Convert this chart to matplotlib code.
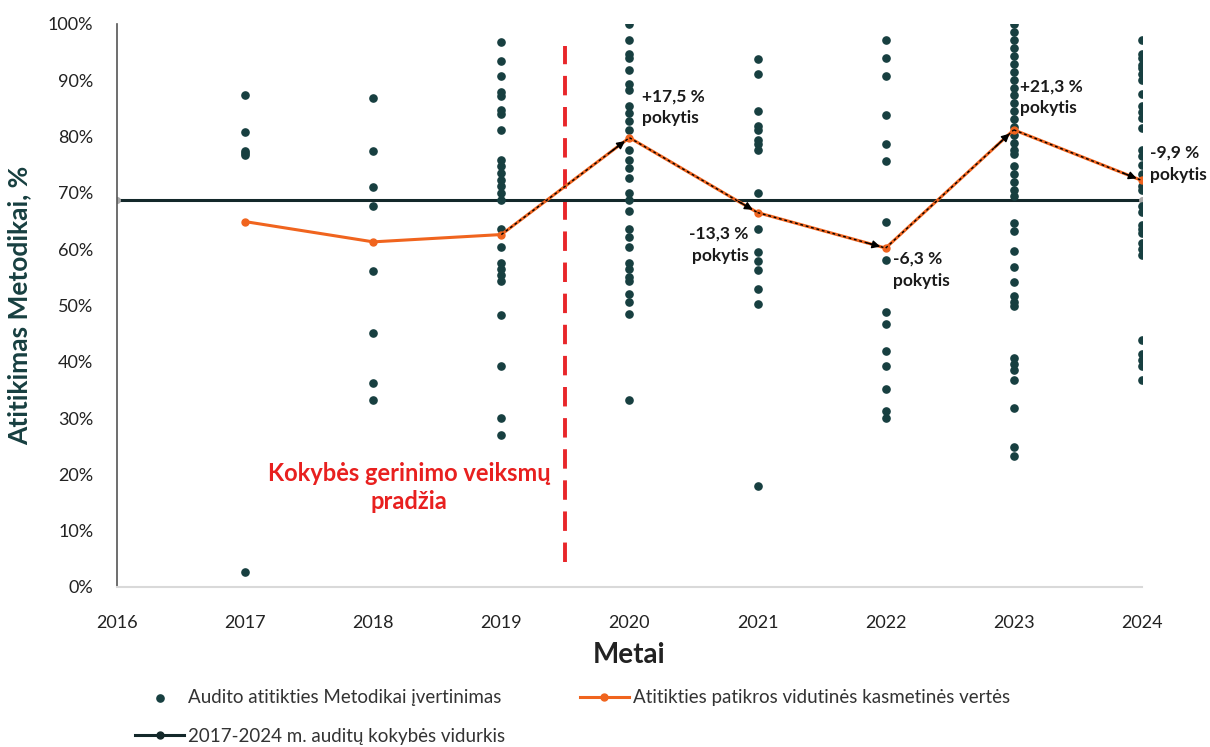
import matplotlib
matplotlib.use("Agg")
import matplotlib.pyplot as plt
from matplotlib.lines import Line2D
from matplotlib.ticker import FuncFormatter

plt.rcParams['font.family'] = ['Lato', 'DejaVu Sans']

# audit scores per year (share of compliance, %)
audit_years = [2017, 2018, 2019, 2020, 2021, 2022, 2023, 2024]
audit_scores = [
    [87.3, 80.8, 77.4, 77.0, 76.8, 2.7],
    [86.8, 77.5, 71.0, 67.7, 56.2, 45.2, 36.2, 33.2],
    [96.8, 93.5, 90.7, 87.9, 87.2, 84.7, 84.0, 81.2, 75.9, 74.8, 73.6, 72.3,
     71.3, 69.9, 68.8, 63.5, 60.3, 57.5, 56.5, 55.4, 54.3, 48.3, 39.2, 30.1, 27.0],
    [100.0, 97.2, 94.6, 93.9, 91.8, 89.4, 88.3, 85.5, 84.1, 82.7, 81.2, 77.7,
     75.9, 74.5, 72.7, 69.9, 68.8, 66.7, 63.6, 62.2, 60.4, 57.6, 56.5, 55.1,
     54.4, 52.0, 50.6, 48.5, 33.3],
    [93.7, 91.1, 84.5, 81.9, 81.2, 79.4, 78.7, 77.7, 69.9, 63.6, 59.5, 57.9,
     56.3, 53.0, 50.2, 18.0],
    [97.2, 94.0, 90.8, 83.9, 78.7, 75.7, 64.8, 58.1, 48.8, 46.7, 41.9, 39.3,
     35.2, 31.2, 30.1],
    [100.0, 98.6, 97.2, 95.7, 94.3, 92.9, 91.5, 90.1, 88.7, 87.3, 85.9, 84.5,
     83.1, 81.7, 80.3, 78.9, 77.7, 76.9, 74.8, 73.4, 72.0, 70.6, 69.4, 64.6,
     63.3, 59.7, 56.9, 54.1, 51.6, 50.6, 49.9, 40.7, 39.6, 38.5, 36.8, 31.8,
     24.8, 23.3],
    [97.2, 94.6, 93.9, 92.8, 92.1, 91.1, 90.0, 87.5, 85.4, 84.4, 83.3, 81.5,
     77.7, 76.6, 74.9, 73.4, 71.3, 70.6, 67.7, 66.6, 64.3, 63.6, 62.9, 61.1,
     60.0, 58.9, 43.9, 41.4, 40.3, 39.3, 36.8],
]

# yearly mean values
mean_years = [2017, 2018, 2019, 2020, 2021, 2022, 2023, 2024]
mean_values = [64.9, 61.3, 62.6, 79.8, 66.5, 60.2, 81.2, 72.2]
change_labels = ['+17,5 %\npokytis', '-13,3 %\npokytis', '-6,3 %\npokytis',
                 '+21,3 %\npokytis', '-9,9 %\npokytis']

# overall average
avg_years = [2016, 2024]
avg_value = 68.8

start_year = 2019.5

teal = '#173f40'
orange = '#f0641e'

fig = plt.figure(figsize=(12.1, 7.47), dpi=100)
ax = fig.add_axes([0.0967, 0.2142, 0.847, 0.7537])

xs, ys = [], []
for yr, vals in zip(audit_years, audit_scores):
    xs += [yr] * len(vals)
    ys += vals
sc = ax.scatter(xs, ys, s=27, color=teal, zorder=3, label='Audito atitikties Metodikai įvertinimas')

ax.plot(avg_years, [avg_value] * len(avg_years), color='#13282a', lw=2.2,
        marker='o', markersize=4, markerfacecolor='#a9a9a9',
        markeredgecolor='#a9a9a9', zorder=2)
avg_handle = Line2D([], [], color='#13282a', lw=2.2, marker='o', markersize=5,
                    label='2017-2024 m. auditų kokybės vidurkis')

mean_line, = ax.plot(mean_years, mean_values, color=orange, lw=2.2, marker='o',
                     markersize=5, zorder=4,
                     label='Atitikties patikros vidutinės kasmetinės vertės')

# dashed black arrows over the segments after 2019
for i in range(2, len(mean_years) - 1):
    x0, y0 = mean_years[i], mean_values[i]
    x1, y1 = mean_years[i + 1], mean_values[i + 1]
    ax.plot([x0, x1], [y0, y1], color='black', lw=1, ls=(0, (2, 2)), zorder=5)
    ax.annotate('', xy=(x1, y1), xytext=(x1 - 0.15 * (x1 - x0), y1 - 0.15 * (y1 - y0)),
                arrowprops=dict(arrowstyle='-|>', color='black', lw=1,
                                shrinkA=0, shrinkB=4, mutation_scale=12), zorder=6)

# change labels
lab_pos = [(2020.1, 81.8, 'left'), (2020.93, 57.4, 'right'), (2022.06, 53.0, 'left'),
           (2023.05, 83.6, 'left'), (2024.06, 71.8, 'left')]
for (lx, ly, ha), txt in zip(lab_pos, change_labels):
    ax.text(lx, ly, txt, ha=ha, va='bottom', fontsize=12.5, fontweight='bold',
            color='#1a1a1a', linespacing=1.45, zorder=7)

ax.plot([start_year, start_year], [4.5, 96], color='#e8262a', lw=2.8, ls=(0, (5, 3)), zorder=1)
ax.text(2018.28, 13.2, 'Kokybės gerinimo veiksmų\npradžia', ha='center', va='bottom',
        fontsize=17, fontweight='bold', color='#e8201f', linespacing=1.25)

ax.set_xlim(2016, 2024)
ax.set_ylim(0, 100)
ax.set_xticks(range(2016, 2025))
ax.set_yticks(range(0, 101, 10))
ax.yaxis.set_major_formatter(FuncFormatter(lambda v, p: '%d%%' % v))
ax.tick_params(axis='both', length=0, labelsize=13, colors='#222222')
ax.tick_params(axis='y', pad=17)
ax.tick_params(axis='x', pad=20)

for s in ['top', 'right']:
    ax.spines[s].set_visible(False)
ax.spines['left'].set_color('#555555')
ax.spines['bottom'].set_color('#d9d9d9')
ax.spines['left'].set_linewidth(1.2)
ax.spines['bottom'].set_linewidth(1.5)

ax.set_ylabel('Atitikimas Metodikai, %', fontsize=19, fontweight='bold', color=teal, labelpad=12)
ax.set_xlabel('Metai', fontsize=20, fontweight='bold', color='#222222', labelpad=8)

fig.legend(handles=[sc, avg_handle, mean_line], ncol=2, frameon=False, fontsize=13.5,
           loc='upper left', bbox_to_anchor=(0.098, 0.1), handlelength=2.6,
           columnspacing=4.0, labelspacing=1.15, handletextpad=0.2,
           labelcolor='#333333')

fig.savefig('out.png', dpi=100)
